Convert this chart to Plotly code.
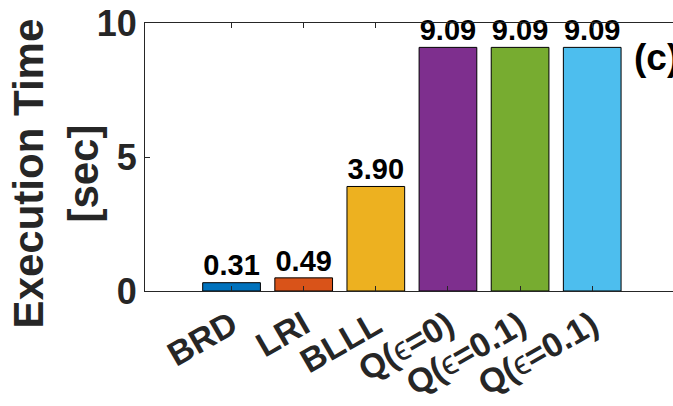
import plotly.graph_objects as go

categories = ["BRD", "LRI", "BLLL",
              "Q(<span style='font-weight:normal'>ϵ</span>=0)",
              "Q(<span style='font-weight:normal'>ϵ</span>=0.1)",
              "Q(<span style='font-weight:normal'>ϵ</span>=0.1)"]
values = [0.31, 0.49, 3.90, 9.09, 9.09, 9.09]
colors = ["#0072BD", "#D95319", "#EDB120", "#7E2F8E", "#77AC30", "#4DBEEE"]
positions = [1, 2, 3, 4, 5, 6]
y_ticks = [0, 5, 10]

FONT = "Liberation Sans, Arial, Helvetica, sans-serif"
AX = "#262626"

fig = go.Figure()
fig.add_trace(go.Bar(
    x=positions, y=values, width=0.8,
    marker=dict(color=colors, line=dict(color="#000000", width=1)),
    showlegend=False,
))
fig.add_trace(go.Scatter(
    x=positions, y=values, mode="text",
    text=[f"{v:.2f}" for v in values], textposition="top center",
    textfont=dict(family=FONT, size=29, color="#000000", weight="bold"),
    cliponaxis=False, showlegend=False,
))

fig.add_annotation(x=6.55, y=8.72, text="(c)", showarrow=False, xanchor="left",
                   font=dict(family=FONT, size=37, color="#000000", weight="bold"))

fig.add_annotation(xref="paper", yref="paper", x=-0.168, y=0.44, xanchor="center",
                   yanchor="middle", textangle=-90, showarrow=False,
                   text="Execution Time<br>[sec]",
                   font=dict(family=FONT, size=42, color=AX, weight="bold"))

fig.update_layout(
    width=673, height=406,
    margin=dict(l=145, r=0, t=23, b=115),
    plot_bgcolor="white", paper_bgcolor="white",
    xaxis=dict(range=[-0.2, 7.12], tickmode="array", tickvals=positions, ticktext=categories,
               tickangle=-30, ticks="inside", ticklen=5, tickcolor=AX, showline=True,
               linecolor=AX, linewidth=1, mirror="ticks", showgrid=False, zeroline=False,
               tickfont=dict(family=FONT, size=34, color=AX, weight="bold"), automargin=False),
    yaxis=dict(range=[0, 10], tickvals=y_ticks, ticks="inside", ticklen=5, tickcolor=AX,
               showline=True, linecolor=AX, linewidth=1, showgrid=False, zeroline=False,
               tickfont=dict(family=FONT, size=36, color=AX, weight="bold"), automargin=False),
)

fig.write_html("out.html")
